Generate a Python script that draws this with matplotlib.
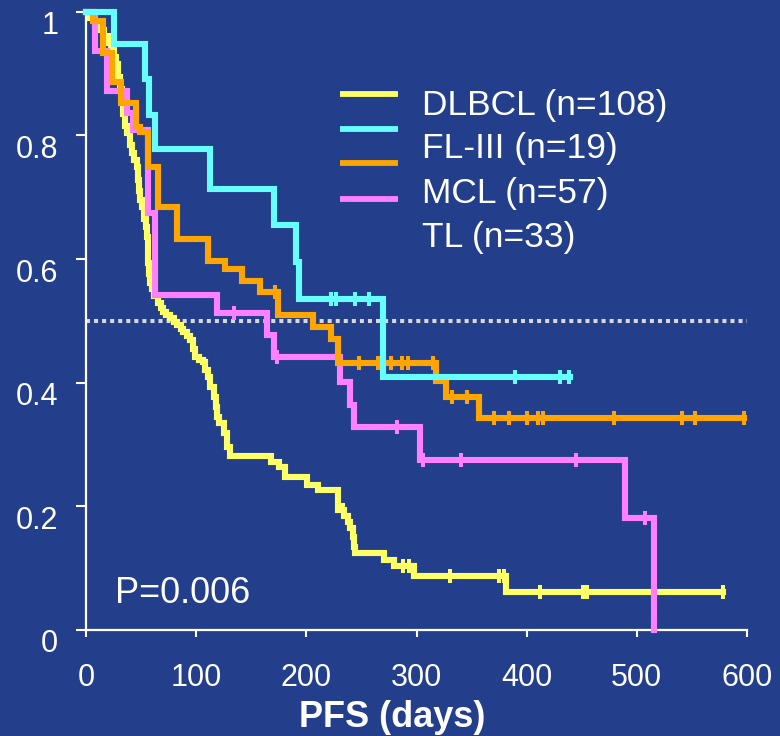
import numpy as np
import matplotlib.pyplot as plt
from matplotlib.lines import Line2D
from matplotlib.transforms import ScaledTranslation

# Kaplan-Meier steps: event times (days) and survival after each step
dlbcl_t = [0, 4, 8, 12, 16, 20, 23, 25, 27, 29, 31, 33, 34, 35.5, 37, 40, 42, 44, 46, 47,
           48, 49, 51, 53, 54.5, 55.5, 56, 56.5, 57.5, 58, 60, 62, 65.5, 68, 70, 73, 76.5,
           80, 83, 86, 88.5, 92, 94.5, 97, 99, 103, 106.5, 108, 111, 113, 116, 118, 119,
           121, 125, 128, 131, 167.5, 175, 181, 201, 211, 228.5, 229, 234, 237.5, 240, 242,
           243, 244, 270.5, 280, 298, 381.5]
dlbcl_s = [1, .99, .98, .97, .96, .95, .94, .927, .915, .895, .875, .857, .834, .815, .804,
           .785, .771, .76, .749, .728, .71, .696, .684, .665, .652, .635, .615, .593, .575,
           .561, .552, .54, .529, .52, .514, .509, .504, .498, .493, .487, .482, .475, .469,
           .455, .441, .437, .433, .42, .409, .393, .377, .36, .345, .335, .318, .296, .281,
           .272, .264, .248, .235, .227, .21, .194, .185, .175, .165, .15, .135, .125, .114,
           .103, .088, .062]
dlbcl_end = 578
dlbcl_cens = [233, 288, 293.5, 330, 375, 379, 412, 451, 454.5, 578]

fl_t = [0, 25, 54, 57, 63, 113, 171, 191, 193, 270]
fl_s = [1, .948, .891, .833, .778, .713, .655, .595, .535, .409]
fl_end = 439
fl_cens = [222, 227, 244, 257, 389, 430, 438]

mcl_t = [0, 6, 15, 23.5, 32, 45.5, 49, 56.5, 65.5, 83, 111, 126.5, 142, 157.5, 174, 206,
         222, 229, 318, 327, 357]
mcl_s = [1, .985, .933, .886, .852, .814, .805, .749, .684, .632, .597, .584, .564, .546,
         .509, .49, .47, .432, .403, .377, .343]
mcl_end = 597.5
mcl_cens = [172, 247.5, 265, 277, 287, 292, 315, 332, 346, 370.5, 384, 400, 410.5, 414.5,
            479, 541, 553, 597.5]

tl_t = [0, 8, 19, 37, 43, 56, 63, 119, 164, 171, 231, 239.5, 243, 303, 489, 516]
tl_s = [1, .937, .871, .836, .808, .674, .541, .512, .477, .441, .401, .364, .328, .275,
        .181, 0]
tl_end = 516
tl_cens = [134, 173, 282, 306, 340, 444.5, 507]

labels = ["DLBCL (n=108)", "FL-III (n=19)", "MCL (n=57)", "TL (n=33)"]
colors = ["#FFFF66", "#66FFFF", "#FFA500", "#FF80FF"]
bg = "#233F8C"

fig = plt.figure(figsize=(7.8, 7.36), dpi=100, facecolor=bg)
ax = fig.add_axes([86 / 780, 1 - 630 / 736, 661 / 780, 618.3 / 736])
ax.set_facecolor(bg)

# median line
ax.plot([0, 600], [0.5, 0.5], color="#D8D8D8", lw=2.9, linestyle=(0, (1, 1)),
        dash_capstyle="butt", zorder=1, clip_on=False)

series = [
    (dlbcl_t, dlbcl_s, dlbcl_end, dlbcl_cens, colors[0], 2),
    (tl_t, tl_s, tl_end, tl_cens, colors[3], 3),
    (mcl_t, mcl_s, mcl_end, mcl_cens, colors[2], 4),
    (fl_t, fl_s, fl_end, fl_cens, colors[1], 5),
]
for t, s, end, cens, col, z in series:
    tt = np.append(t, end)
    ss = np.append(s, s[-1])
    ax.step(tt, ss, where="post", color=col, lw=4.4, zorder=z, clip_on=False,
            solid_joinstyle="miter")
    idx = np.searchsorted(t, cens, side="right") - 1
    cy = np.array(s)[idx]
    ax.plot(cens, cy, linestyle="none", marker="|", ms=10, mew=2.9, color=col,
            zorder=z, clip_on=False)

ax.set_xlim(0, 600)
ax.set_ylim(0, 1)
ax.set_xticks([0, 100, 200, 300, 400, 500, 600])
ax.set_yticks([0, 0.2, 0.4, 0.6, 0.8, 1])
ax.set_yticklabels(["0", "0.2", "0.4", "0.6", "0.8", "1"])
for side in ["top", "right"]:
    ax.spines[side].set_visible(False)
for side in ["left", "bottom"]:
    ax.spines[side].set_color("white")
    ax.spines[side].set_linewidth(1.6)
ax.tick_params(axis="y", colors="white", length=7, width=1.5, pad=13,
               labelsize=22, direction="out")
ax.tick_params(axis="x", colors="white", length=5, width=1.5, pad=19,
               labelsize=22, direction="out")
for lab in ax.get_yticklabels() + ax.get_xticklabels():
    lab.set_fontfamily("Liberation Sans")
shift = ScaledTranslation(0, -0.11, fig.dpi_scale_trans)
for lab in ax.get_yticklabels():
    lab.set_transform(lab.get_transform() + shift)

ax.text(26.4, 0.044, "P=0.006", color="white", fontsize=26, family="Liberation Sans",
        va="baseline")

fig.text(0.5026, 1 - 727 / 736, "PFS (days)", color="white", fontsize=26,
         fontweight="bold", family="Liberation Sans", ha="center", va="baseline")

# legend (swatches sit a bit above their labels as in the original)
sw_y = [94, 129, 163, 199]
txt_y = [115, 158, 203, 247]
for col, py in zip(colors, sw_y):
    fig.add_artist(Line2D([340 / 780, 398 / 780], [1 - py / 736, 1 - py / 736],
                          color=col, lw=4.2, solid_capstyle="butt"))
for lab, py in zip(labels, txt_y):
    fig.text(422 / 780, 1 - py / 736, lab, color="white", fontsize=25.5,
             family="Liberation Sans", va="baseline")

fig.savefig("out.png", dpi=100, facecolor=bg)
